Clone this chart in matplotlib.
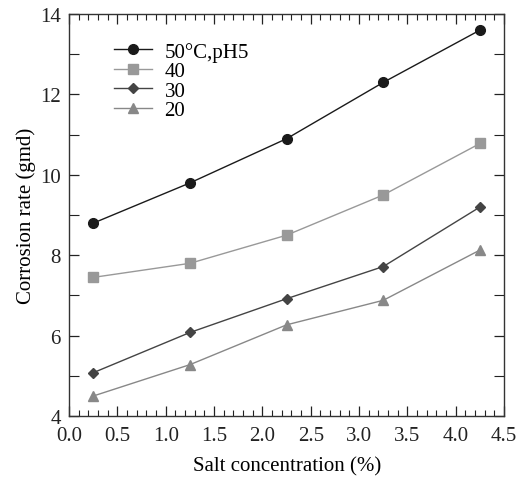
import matplotlib.pyplot as plt
from matplotlib.ticker import MultipleLocator

plt.rcParams['font.family'] = ['Liberation Serif', 'DejaVu Serif']

salt = [0.25, 1.25, 2.25, 3.25, 4.25]
rate_50 = [8.8, 9.8, 10.9, 12.3, 13.6]
rate_40 = [7.45, 7.8, 8.5, 9.5, 10.78]
rate_30 = [5.08, 6.08, 6.92, 7.72, 9.2]
rate_20 = [4.5, 5.28, 6.27, 6.88, 8.13]
labels = ["50°C,pH5", "40", "30", "20"]

fig = plt.figure(figsize=(5.16, 4.85), dpi=100)
ax = fig.add_axes([0.134, 0.140, 0.843, 0.829])

ax.plot(salt, rate_50, color="#1a1a1a", marker="o", ms=7, lw=1.0, label=labels[0])
ax.plot(salt, rate_40, color="#999999", marker="s", ms=6.5, lw=1.0, label=labels[1])
ax.plot(salt, rate_30, color="#444444", marker="D", ms=5, lw=1.0, label=labels[2])
ax.plot(salt, rate_20, color="#888888", marker="^", ms=6.5, lw=1.0, label=labels[3])

ax.set_xlim(0, 4.5)
ax.set_ylim(4, 14)
ax.xaxis.set_major_locator(MultipleLocator(0.5))
ax.xaxis.set_minor_locator(MultipleLocator(0.1))
ax.yaxis.set_major_locator(MultipleLocator(2))
ax.yaxis.set_minor_locator(MultipleLocator(1))
ax.tick_params(which="both", direction="in", top=True, right=True, labelsize=15, colors="#222222")
ax.tick_params(which="major", length=7, width=0.9)
ax.tick_params(which="minor", length=4, width=0.8)
ax.tick_params(axis="y", which="minor", length=7)
ax.tick_params(axis="x", pad=7)
ax.tick_params(axis="y", pad=6)
for s in ax.spines.values():
    s.set_color("#333333")
    s.set_linewidth(1.0)

ax.set_xlabel("Salt concentration (%)", fontsize=15, labelpad=8)
ax.set_ylabel("Corrosion rate (gmd)", fontsize=15, labelpad=3)

ax.legend(loc="upper left", bbox_to_anchor=(0.085, 0.952), frameon=False, fontsize=15,
          handlelength=1.8, labelspacing=0.0, handletextpad=0.6, borderaxespad=0)

fig.savefig("out.png", dpi=100)
